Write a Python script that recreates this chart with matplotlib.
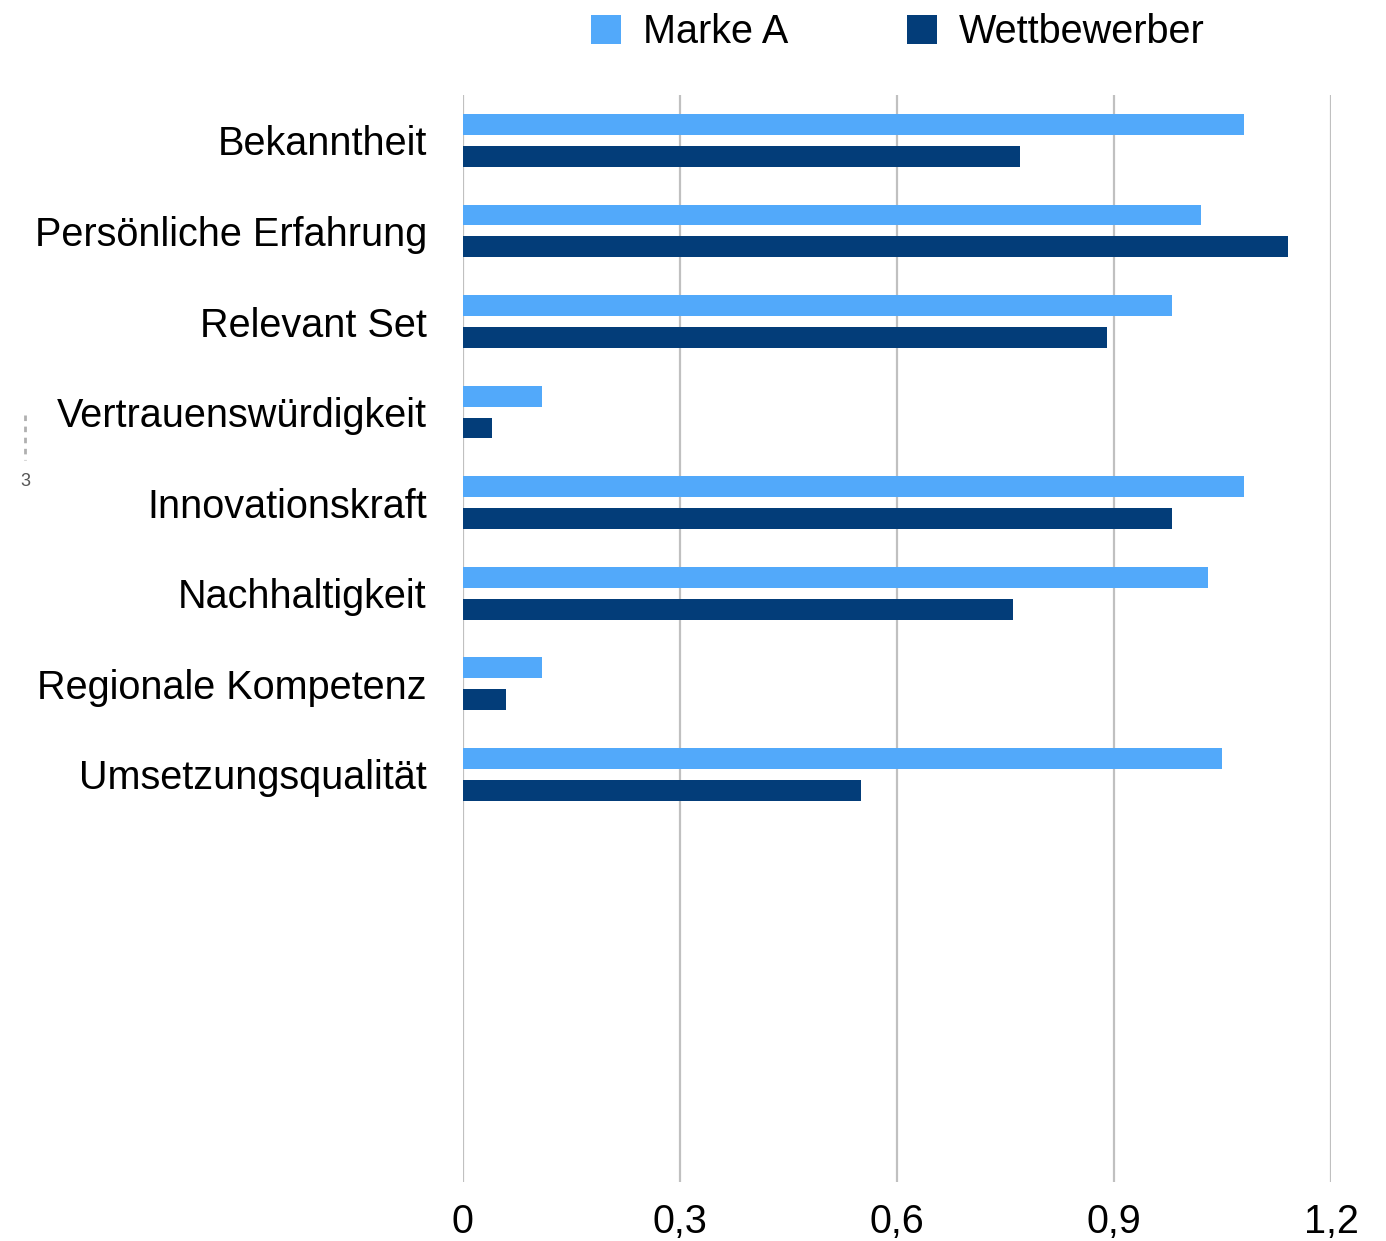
import numpy as np
import matplotlib.pyplot as plt
from matplotlib.lines import Line2D

categories = ['Bekanntheit', 'Persönliche Erfahrung', 'Relevant Set', 'Vertrauenswürdigkeit',
              'Innovationskraft', 'Nachhaltigkeit', 'Regionale Kompetenz', 'Umsetzungsqualität']
marke_a = [1.08, 1.02, 0.98, 0.11, 1.08, 1.03, 0.11, 1.05]
wettbewerber = [0.77, 1.14, 0.89, 0.04, 0.98, 0.76, 0.06, 0.55]
x_ticks = [0, 0.3, 0.6, 0.9, 1.2]
x_tick_labels = ['0', '0,3', '0,6', '0,9', '1,2']
n_slots = 12

plt.rcParams['font.family'] = ['Liberation Sans', 'DejaVu Sans']

fig = plt.figure(figsize=(13.86, 12.41), dpi=100)
ax = fig.add_axes([0.334, 0.0475, 0.6263, 0.8759])

y = np.arange(len(categories))
h = 0.23
ax.barh(y - 0.176, marke_a, height=h, color='#52a9fa', label='Marke A', zorder=3)
ax.barh(y + 0.176, wettbewerber, height=h, color='#033d79', label='Wettbewerber', zorder=3)

ax.set_xlim(0, 1.2)
ax.set_ylim(n_slots - 0.5, -0.5)
ax.set_xticks(x_ticks)
ax.set_xticklabels(x_tick_labels, fontsize=28.5)
ax.set_yticks(y)
ax.set_yticklabels(categories, fontsize=28.5)
ax.tick_params(axis='both', length=0)
ax.tick_params(axis='x', pad=15)
ax.tick_params(axis='y', pad=26)
for s in ax.spines.values():
    s.set_visible(False)
ax.grid(axis='x', color='#c0c0c0', linewidth=1.6, zorder=0)
ax.set_axisbelow(True)

fig.legend(loc='center', bbox_to_anchor=(0.648, 0.974), ncol=2, frameon=False,
           fontsize=28.5, handlelength=0.76, handleheight=0.76, columnspacing=3.0,
           handletextpad=0.55, borderpad=0, borderaxespad=0)

# small marker on the left edge
fig.add_artist(Line2D([25 / 1386, 25 / 1386], [1 - 415 / 1241, 1 - 460 / 1241],
                      color='#b0b0b0', linewidth=2, linestyle=(0, (2, 2))))
fig.text(25 / 1386, 1 - 481 / 1241, '3', fontsize=13, color='#555555', ha='center', va='center')

fig.savefig('out.png', dpi=100)
